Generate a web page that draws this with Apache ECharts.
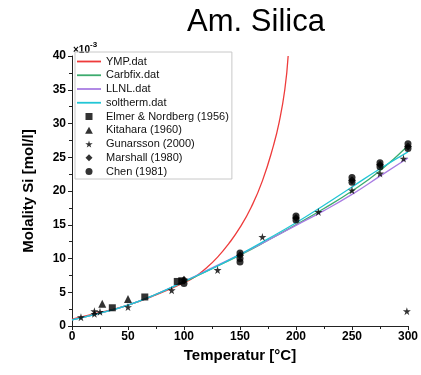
<!DOCTYPE html>
<html>
<head>
<meta charset="utf-8">
<script src="https://cdn.jsdelivr.net/npm/echarts@6/dist/echarts.min.js"></script>
<style>
  html, body { margin: 0; padding: 0; background: #fff; }
  #chart { width: 421px; height: 375px; }
</style>
</head>
<body>
<div id="chart"></div>
<script>
// Temperatur [°C] / Molality Si [10^-3 mol/l]
const ymp = [[0, 1.0], [25, 2.0], [50, 3.1], [75, 4.6], [100, 6.4], [110, 7.3], [120, 8.6], [130, 10.2],
  [140, 12.2], [150, 14.6], [160, 17.6], [170, 21.5], [180, 26.8], [185, 30.2], [190, 35.0], [193, 40.0]]
const carbfix = [[0, 0.9], [25, 1.9], [50, 3.1], [75, 4.7], [100, 6.5], [125, 8.5], [150, 10.5],
  [175, 12.7], [200, 15.0], [225, 17.4], [250, 20.0], [275, 23.0], [300, 26.7]]
const llnl = [[0, 0.9], [25, 1.9], [50, 3.1], [75, 4.7], [100, 6.6], [125, 8.6], [150, 10.6],
  [175, 12.7], [200, 14.9], [225, 17.1], [250, 19.5], [275, 22.2], [300, 24.9]]
const soltherm = [[0, 0.9], [25, 1.9], [50, 3.1], [75, 4.7], [100, 6.6], [125, 8.5], [150, 10.6],
  [175, 12.9], [200, 15.3], [225, 17.9], [250, 20.6], [275, 23.3], [300, 25.8]]

const elmer = [[36, 2.7], [65, 4.3], [94, 6.6], [98, 6.7]]
const kitahara = [[27, 3.3], [50, 4.0]]
const gunarsson = [[8, 1.3], [20, 1.8], [20, 2.2], [25, 2.1], [50, 2.8], [89, 5.3], [100, 6.9], [130, 8.3],
  [170, 13.2], [220, 16.9], [250, 20.1], [275, 22.6], [296, 24.8], [299, 2.2]]
const marshall = [[100, 6.8], [150, 10.5], [200, 16.0], [250, 21.6], [275, 23.9], [300, 26.6]]
const chen = [[100, 6.3], [150, 9.5], [150, 10.0], [150, 10.8], [200, 15.7], [200, 16.3], [250, 21.3],
  [250, 22.0], [275, 23.6], [275, 24.2], [300, 26.3], [300, 27.0]]

const xTicks = { min: 0, max: 300, interval: 50 }
const yTicks = { min: 0, max: 40, interval: 5 }

const star = 'path://M50,0 L61,35 L98,35 L68,57 L79,91 L50,70 L21,91 L32,57 L2,35 L39,35 Z'
const font = 'Arial, "Liberation Sans", sans-serif'

// legend icons (paths keep their aspect ratio)
const icons = {
  line: 'path://M0,0 L24,0 L24,1.8 L0,1.8 Z',
  rect: 'path://M0,0 L10,0 L10,10 L0,10 Z',
  triangle: 'path://M5,0 L10,9 L0,9 Z',
  diamond: 'path://M5,0 L10,5 L5,10 L0,5 Z',
  circle: 'path://M0,5 A5,5 0 1,1 10,5 A5,5 0 1,1 0,5 Z',
}

const chart = echarts.init(document.getElementById('chart'))

function curve(name, data, color) {
  return {
    name: name,
    type: 'line',
    smooth: true,
    symbol: 'none',
    data: data,
    lineStyle: { color: color, width: 1.3 },
    itemStyle: { color: color },
    clip: true,
    z: 2,
  }
}
function dots(name, data, symbol, size) {
  return {
    name: name,
    type: 'scatter',
    symbol: symbol,
    symbolSize: size,
    data: data,
    itemStyle: { color: '#000' },
    z: 3,
  }
}

let option = {
  animation: false,
  title: {
    text: 'Am. Silica',
    left: 251,
    top: 2,
    textAlign: 'center',
    textStyle: { fontFamily: font, fontSize: 31, fontWeight: 'normal', color: '#000' },
  },
  grid: { left: 72, right: 12, top: 56, bottom: 49 },
  legend: {
    orient: 'vertical',
    left: 75,
    top: 52,
    itemWidth: 24,
    itemHeight: 7,
    itemGap: 0.75,
    symbolKeepAspect: true,
    padding: [3, 3, 1, 2],
    borderColor: '#c8c8c8',
    borderWidth: 1,
    textStyle: { fontFamily: font, fontSize: 11, color: '#111', lineHeight: 13 },
    data: [
      { name: 'YMP.dat', icon: icons.line },
      { name: 'Carbfix.dat', icon: icons.line },
      { name: 'LLNL.dat', icon: icons.line },
      { name: 'soltherm.dat', icon: icons.line },
      { name: 'Elmer & Nordberg (1956)', icon: icons.rect },
      { name: 'Kitahara (1960)', icon: icons.triangle },
      { name: 'Gunarsson (2000)', icon: star },
      { name: 'Marshall (1980)', icon: icons.diamond },
      { name: 'Chen (1981)', icon: icons.circle },
    ],
  },
  graphic: [
    {
      type: 'text',
      left: 73,
      top: 41,
      style: {
        text: '{a|×10}{b|-3}',
        rich: {
          a: { fontFamily: font, fontSize: 10, fontWeight: 'bold', fill: '#000', verticalAlign: 'bottom' },
          b: { fontFamily: font, fontSize: 8, fontWeight: 'bold', fill: '#000', verticalAlign: 'top', padding: [0, 0, 6, 0] },
        },
      },
    },
  ],
  xAxis: {
    type: 'value',
    min: xTicks.min,
    max: xTicks.max,
    interval: xTicks.interval,
    name: 'Temperatur [°C]',
    nameLocation: 'middle',
    nameGap: 22,
    nameTextStyle: { fontFamily: font, fontSize: 15, fontWeight: 'bold', color: '#000' },
    axisLine: { lineStyle: { color: '#222', width: 1 } },
    axisTick: { show: true, length: 4, lineStyle: { color: '#222' } },
    minorTick: { show: true, splitNumber: 2, length: 3, lineStyle: { color: '#222' } },
    splitLine: { show: false },
    axisLabel: { fontFamily: font, fontSize: 12, fontWeight: 'bold', color: '#000', margin: 5 },
  },
  yAxis: {
    type: 'value',
    min: yTicks.min,
    max: yTicks.max,
    interval: yTicks.interval,
    name: 'Molality Si [mol/l]',
    nameLocation: 'middle',
    nameGap: 36,
    nameTextStyle: { fontFamily: font, fontSize: 15, fontWeight: 'bold', color: '#000' },
    axisLine: { show: true, lineStyle: { color: '#222', width: 1 } },
    axisTick: { show: true, length: 4, lineStyle: { color: '#222' } },
    minorTick: { show: true, splitNumber: 2, length: 3, lineStyle: { color: '#222' } },
    splitLine: { show: false },
    axisLabel: { fontFamily: font, fontSize: 12, fontWeight: 'bold', color: '#000', margin: 6 },
  },
  series: [
    curve('YMP.dat', ymp, '#ee3b3b'),
    curve('Carbfix.dat', carbfix, '#3dab6e'),
    curve('LLNL.dat', llnl, '#a97de3'),
    curve('soltherm.dat', soltherm, '#22c6d6'),
    dots('Elmer & Nordberg (1956)', elmer, 'rect', 7),
    dots('Kitahara (1960)', kitahara, 'triangle', 8),
    dots('Gunarsson (2000)', gunarsson, star, 8),
    dots('Marshall (1980)', marshall, 'diamond', 8),
    dots('Chen (1981)', chen, 'circle', 7),
  ],
}

chart.setOption(option)
window.addEventListener('resize', () => {
  chart.resize()
})
</script>
</body>
</html>
